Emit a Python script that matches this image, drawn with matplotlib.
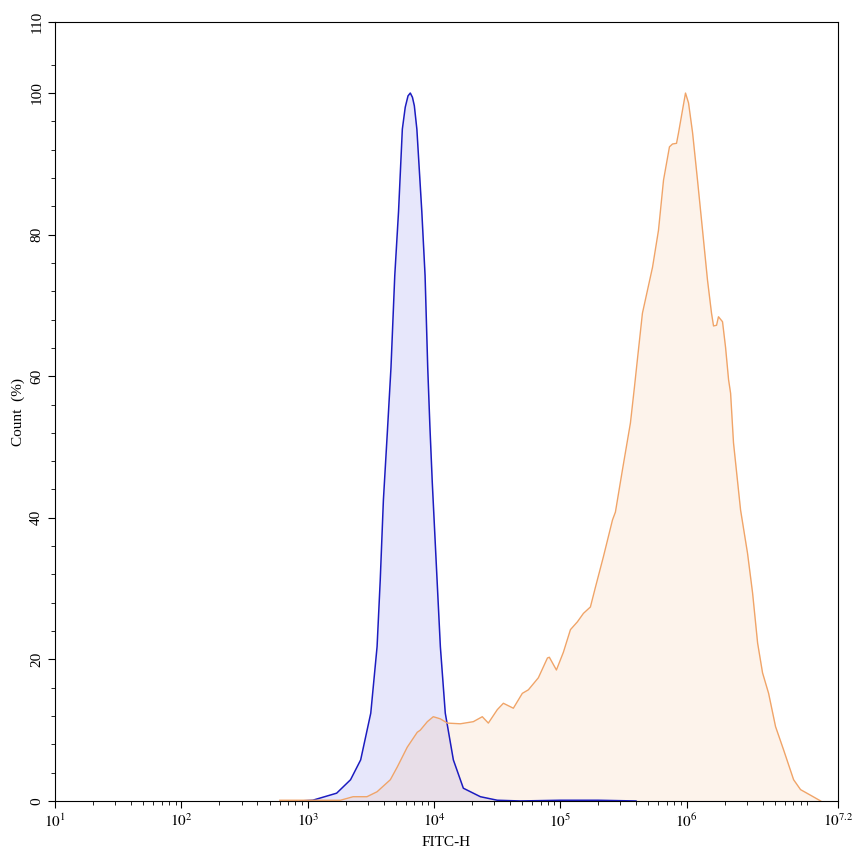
import numpy as np
import matplotlib
matplotlib.use("Agg")
import matplotlib.pyplot as plt
from matplotlib.ticker import FixedLocator, FixedFormatter

plt.rcParams['font.family'] = ['Liberation Serif', 'DejaVu Serif']
plt.rcParams['mathtext.fontset'] = 'stix'

# blue histogram (log10 FITC-H, count %)
blue_log = [2.94, 3.04, 3.23, 3.34, 3.42, 3.50, 3.55, 3.575, 3.60, 3.631, 3.66,
            3.69, 3.72, 3.75, 3.773, 3.795, 3.813, 3.83, 3.845, 3.865, 3.904,
            3.93, 3.951, 3.968, 3.987, 4.025, 4.051, 4.09, 4.154, 4.233, 4.368,
            4.502, 4.685, 5.0, 5.3, 5.6]
blue_cnt = [0, 0.1, 1.1, 3.0, 5.8, 12.4, 21.8, 31.2, 42.5, 52.0, 61.2,
            74.2, 83.3, 94.9, 98.0, 99.6, 100, 99.4, 98.2, 94.9, 83.3,
            74.2, 61.2, 53.0, 45, 31.2, 21.8, 12.4, 5.8, 1.8, 0.6,
            0.1, 0, 0.1, 0.1, 0]

# orange histogram
orange_log = [2.78, 3.26, 3.36, 3.47, 3.55, 3.655, 3.71, 3.789, 3.868, 3.892,
              3.948, 3.995, 4.051, 4.106, 4.209, 4.312, 4.383, 4.431, 4.502,
              4.55, 4.629, 4.70, 4.748, 4.827, 4.899, 4.914, 4.97, 5.025,
              5.081, 5.136, 5.184, 5.239, 5.279, 5.342, 5.414, 5.437, 5.493,
              5.556, 5.588, 5.612, 5.651, 5.731, 5.778, 5.818, 5.865, 5.889,
              5.921, 5.937, 5.992, 6.016, 6.048, 6.087, 6.127, 6.166, 6.198,
              6.214, 6.238, 6.253, 6.285, 6.309, 6.333, 6.349, 6.372, 6.428,
              6.483, 6.523, 6.563, 6.602, 6.65, 6.705, 6.769, 6.848, 6.903,
              6.983, 7.062]
orange_cnt = [0.1, 0.1, 0.6, 0.6, 1.3, 3.0, 4.8, 7.6, 9.7, 10.0,
              11.2, 11.9, 11.6, 11.0, 10.9, 11.2, 11.9, 11.0, 12.9,
              13.8, 13.1, 15.2, 15.7, 17.4, 20.2, 20.3, 18.5, 21.0,
              24.2, 25.3, 26.5, 27.4, 30.2, 34.5, 39.7, 40.8, 46.8,
              53.4, 58.5, 62.5, 68.9, 75.4, 80.6, 87.7, 92.4, 92.8,
              92.9, 94.4, 100, 98.6, 94.4, 87.7, 80.6, 73.6, 68.9,
              67.1, 67.2, 68.4, 67.7, 64.1, 59.5, 57.6, 50.6, 41.1,
              35.0, 29.4, 22.3, 18.1, 15.2, 10.5, 7.2, 3.0, 1.6,
              0.8, 0]

xtick_exp = [1, 2, 3, 4, 5, 6, 7.2]
xtick_labels = ['$10^{1}$', '$10^{2}$', '$10^{3}$', '$10^{4}$', '$10^{5}$',
                '$10^{6}$', '$10^{7.2}$']
ytick_major = [0, 20, 40, 60, 80, 100, 110]

blue_x = 10 ** np.array(blue_log)
orange_x = 10 ** np.array(orange_log)

fig = plt.figure(figsize=(8.53, 8.56), dpi=100)
ax = fig.add_axes([0.0645, 0.0643, 0.918, 0.9097])

ax.fill_between(blue_x, blue_cnt, 0, color='#b0b0f5', alpha=0.3, lw=0)
ax.plot(blue_x, blue_cnt, color='#1c1cc0', lw=1.1)
ax.fill_between(orange_x, orange_cnt, 0, color='#f4a460', alpha=0.12, lw=0)
ax.plot(orange_x, orange_cnt, color='#f0a468', lw=1.0)

ax.set_xscale('log')
ax.set_xlim(10, 10 ** 7.2)
ax.set_ylim(0, 110)

ax.xaxis.set_major_locator(FixedLocator([10 ** e for e in xtick_exp]))
ax.xaxis.set_major_formatter(FixedFormatter(xtick_labels))
minor_x = [m * 10 ** d for d in range(1, 8) for m in range(2, 10) if m * 10 ** d < 10 ** 7.2]
ax.xaxis.set_minor_locator(FixedLocator(minor_x))
ax.xaxis.set_minor_formatter(FixedFormatter([]))

ax.yaxis.set_major_locator(FixedLocator(ytick_major))
ax.yaxis.set_minor_locator(FixedLocator([v for v in range(4, 105, 4) if v % 20 != 0]))

ax.tick_params(axis='both', which='major', length=5, width=0.8, labelsize=11)
ax.tick_params(axis='both', which='minor', length=3, width=0.6)
ax.tick_params(axis='y', labelrotation=90)
for lab in ax.get_yticklabels():
    lab.set_va('center')

ax.set_xlabel('FITC-H', fontsize=11)
ax.set_ylabel('Count  (%)', fontsize=11)

fig.savefig('out.png', dpi=100)
